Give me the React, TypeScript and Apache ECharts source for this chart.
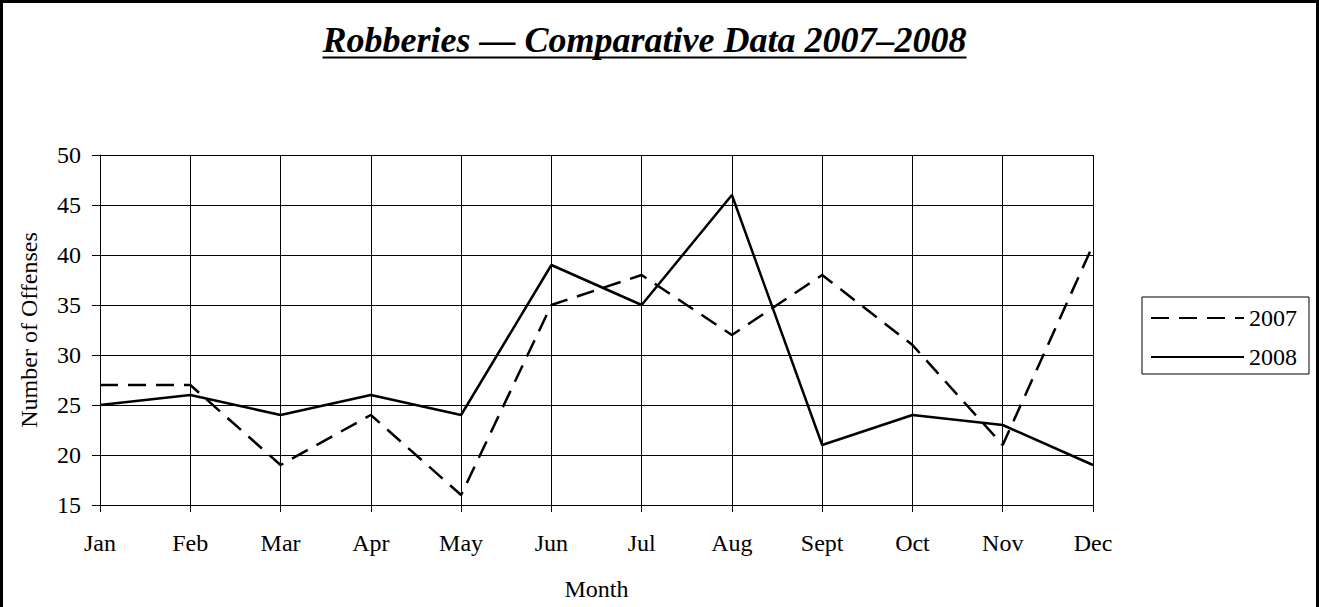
import React, { useEffect, useRef } from "react";
import * as echarts from "echarts";

const months = ["Jan", "Feb", "Mar", "Apr", "May", "Jun", "Jul", "Aug", "Sept", "Oct", "Nov", "Dec"];
const data2007 = [27, 27, 19, 24, 16, 35, 38, 32, 38, 31, 21, 41];
const data2008 = [25, 26, 24, 26, 24, 39, 35, 46, 21, 24, 23, 19];
const titleText = "Robberies \u2014 Comparative Data 2007\u20132008";

const FONT = '"Liberation Serif", "Times New Roman", serif';

export default function App() {
  const ref = useRef<HTMLDivElement>(null);
  useEffect(() => {
    document.body.style.margin = "0";
    const chart = echarts.init(ref.current!, undefined, { renderer: "svg" });

    const cv = document.createElement("canvas");
    const ctx = cv.getContext("2d")!;
    ctx.font = `italic bold 36px ${FONT}`;
    const tw = ctx.measureText(titleText).width;
    const tcx = 644.5;

    chart.setOption({
      animation: false,
      backgroundColor: "#fff",
      textStyle: { fontFamily: FONT, color: "#000" },
      graphic: [
        {
          type: "rect",
          shape: { x: 1.5, y: 1.5, width: 1316, height: 700 },
          style: { fill: "none", stroke: "#000", lineWidth: 3 },
          silent: true,
        },
        {
          type: "text",
          x: tcx,
          y: 40,
          style: {
            text: titleText,
            font: `italic bold 36px ${FONT}`,
            fill: "#000",
            align: "center",
            verticalAlign: "middle",
          },
        },
        {
          type: "line",
          shape: { x1: tcx - tw / 2, y1: 57.5, x2: tcx + tw / 2, y2: 57.5 },
          style: { stroke: "#000", lineWidth: 2 },
        },
      ],
      grid: { left: 100, right: 226, top: 155, bottom: 102, containLabel: false },
      legend: {
        orient: "vertical",
        left: 1142,
        top: 297,
        padding: [9, 12, 5, 8],
        itemGap: 15,
        itemWidth: 93,
        itemHeight: 14,
        borderColor: "#000",
        borderWidth: 1,
        itemStyle: { opacity: 0 },
        textStyle: { fontFamily: FONT, fontSize: 24, color: "#000" },
        data: ["2007", "2008"],
      },
      xAxis: {
        type: "category",
        data: months,
        boundaryGap: false,
        name: "Month",
        nameLocation: "middle",
        nameGap: 72,
        nameTextStyle: { fontFamily: FONT, fontSize: 24, color: "#000" },
        axisLine: { lineStyle: { color: "#000", width: 1 } },
        axisTick: { show: true, length: 7, lineStyle: { color: "#000" } },
        axisLabel: { margin: 26, fontFamily: FONT, fontSize: 24, color: "#000", interval: 0 },
        splitLine: { show: true, lineStyle: { color: "#000", width: 1 } },
      },
      yAxis: {
        type: "value",
        min: 15,
        max: 50,
        interval: 5,
        name: "Number of Offenses",
        nameLocation: "middle",
        nameRotate: 90,
        nameGap: 59,
        nameTextStyle: { fontFamily: FONT, fontSize: 24, color: "#000" },
        axisLine: { show: true, lineStyle: { color: "#000", width: 1 } },
        axisTick: { show: true, length: 8, lineStyle: { color: "#000" } },
        axisLabel: { margin: 19, fontFamily: FONT, fontSize: 24, color: "#000" },
        splitLine: { show: true, lineStyle: { color: "#000", width: 1 } },
      },
      series: [
        {
          name: "2007",
          type: "line",
          data: data2007,
          symbol: "none",
          lineStyle: { color: "#000", width: 2.5, type: [18, 10] },
          itemStyle: { color: "#000" },
        },
        {
          name: "2008",
          type: "line",
          data: data2008,
          symbol: "none",
          lineStyle: { color: "#000", width: 2.5, type: "solid" },
          itemStyle: { color: "#000" },
        },
      ],
    });
    return () => chart.dispose();
  }, []);
  return <div ref={ref} style={{ width: 1319, height: 607 }} />;
}
